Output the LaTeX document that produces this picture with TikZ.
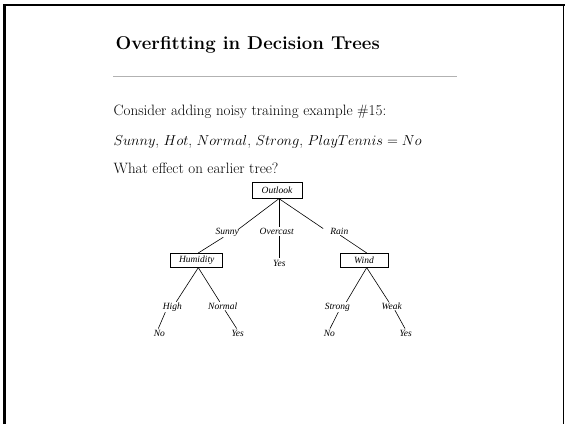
\documentclass[tikz,border=0pt]{standalone}
\usepackage{fontspec}
\newfontfamily\treefont{Liberation Serif}
\usetikzlibrary{calc}
\begin{document}
\begin{tikzpicture}[x=1pt,y=-1pt,
  body/.style={anchor=base west, inner sep=0pt, font=\fontsize{15}{18}\selectfont},
  lab/.style={anchor=base, inner sep=0pt, font=\treefont\itshape\fontsize{9.5}{11}\selectfont},
  tbox/.style={draw, line width=0.7pt, inner sep=0pt, minimum height=14pt, font=\treefont\itshape\fontsize{9.5}{11}\selectfont},
  edge/.style={line width=0.6pt}]
\useasboundingbox (0,0) rectangle (565,424);
% frame
\draw[line width=3pt] (4.5,424) -- (4.5,3.5);
\draw[line width=2pt] (3,5) -- (565,5);
\draw[line width=1.2pt] (563.5,4) -- (563.5,424);
% texts
\node[anchor=base west, inner sep=0pt, font=\bfseries\fontsize{18.6}{22}\selectfont] (title) at (115.5,49.5) {Overfitting in Decision Trees};
\draw[black!30, line width=0.9pt] (113,76.5) -- (456.7,76.5);
\node[body] (l1) at (113.5,115) {Consider adding noisy training example \#15:};
\node[body] (l2) at (113.5,145) {$Sunny$, $Hot$, $Normal$, $Strong$, $PlayTennis = No$};
\node[body] (l3) at (113.5,173) {What effect on earlier tree?};
% tree
\node[tbox, minimum width=50pt, minimum height=15.6pt] (outlook) at (277,190.5) {Outlook};
\node[lab] (sunny) at (227.3,234) {Sunny};
\node[lab] (overcast) at (276.7,234) {Overcast};
\node[lab] (rain) at (339.3,234) {Rain};
\node[tbox, minimum width=52pt] (humidity) at (196.7,260.3) {Humidity};
\node[lab] (yes1) at (279.3,266) {Yes};
\node[tbox, minimum width=48pt] (wind) at (364,260.3) {Wind};
\node[lab] (high) at (172.3,309) {High};
\node[lab] (normal) at (222.7,309) {Normal};
\node[lab] (strong) at (337.3,309) {Strong};
\node[lab] (weak) at (391.7,309) {Weak};
\node[lab] (no1) at (159.3,336) {No};
\node[lab] (yes2) at (237.7,336) {Yes};
\node[lab] (no2) at (329.3,336) {No};
\node[lab] (yes3) at (405.7,336) {Yes};
% edges
\draw[edge] ($(outlook.south)+(2,0)$) -- ($(sunny.north east)+(-1,2)$);
\draw[edge] ($(outlook.south)+(2,0)$) -- ($(outlook.south |- overcast.north)+(2,-1)$);
\draw[edge] ($(outlook.south)+(2,0)$) -- ($(rain.north west)+(-7,1)$);
\draw[edge] ($(sunny.south)+(-4,1)$) -- ($(humidity.north)+(1.6,0)$);
\draw[edge] ($(yes1.north |- overcast.south)+(0,1.5)$) -- ($(yes1.north)+(0,-1.5)$);
\draw[edge] ($(rain.south)+(1,1)$) -- ($(wind.north)+(2.7,0)$);
\draw[edge] ($(humidity.south)+(1.6,0)$) -- ($(high.north)+(4,-0.5)$);
\draw[edge] ($(humidity.south)+(1.6,0)$) -- ($(normal.north)+(-3,-0.5)$);
\draw[edge] ($(wind.south)+(2.7,0)$) -- ($(strong.north)+(9,-0.5)$);
\draw[edge] ($(wind.south)+(2.7,0)$) -- ($(weak.north)+(-3,-0.5)$);
\draw[edge] ($(high.south)+(-7,1)$) -- ($(no1.north)+(-1,-1)$);
\draw[edge] ($(normal.south)+(2.3,1)$) -- ($(yes2.north)+(-1,-1)$);
\draw[edge] ($(strong.south)+(1,1)$) -- ($(no2.north)+(0.7,-1)$);
\draw[edge] ($(weak.south)+(3.3,1)$) -- ($(yes3.north)+(-0.7,-1)$);
\end{tikzpicture}
\end{document}
